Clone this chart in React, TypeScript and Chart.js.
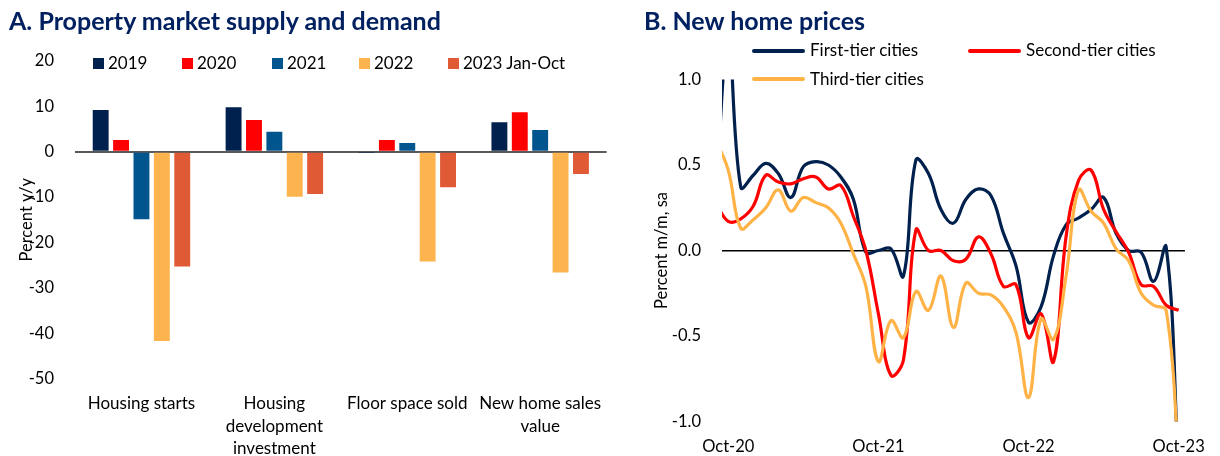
import React, { useEffect, useRef } from 'react';
import { Chart, registerables } from 'chart.js';

Chart.register(...registerables);

// ---------- Panel A data ----------
const categoryLines: string[][] = [
  ['Housing starts'],
  ['Housing', 'development', 'investment'],
  ['Floor space sold'],
  ['New home sales', 'value'],
];
const barSeriesNames = ['2019', '2020', '2021', '2022', '2023 Jan-Oct'];
const values2019 = [9.2, 9.8, -0.1, 6.5];
const values2020 = [2.6, 7.0, 2.6, 8.7];
const values2021 = [-14.9, 4.4, 1.9, 4.8];
const values2022 = [-41.7, -9.9, -24.2, -26.6];
const values2023 = [-25.3, -9.3, -7.8, -4.9];
const barColors = ['#00214D', '#FF0000', '#00558F', '#FDB44E', '#E05A36'];
const barYMin = -50;
const barYMax = 20;
const barYStep = 10;

// ---------- Panel B data ----------
const monthLabels = [
  'Sep-20', 'Oct-20', 'Nov-20', 'Dec-20',
  'Jan-21', 'Feb-21', 'Mar-21', 'Apr-21', 'May-21', 'Jun-21', 'Jul-21', 'Aug-21', 'Sep-21', 'Oct-21', 'Nov-21', 'Dec-21',
  'Jan-22', 'Feb-22', 'Mar-22', 'Apr-22', 'May-22', 'Jun-22', 'Jul-22', 'Aug-22', 'Sep-22', 'Oct-22', 'Nov-22', 'Dec-22',
  'Jan-23', 'Feb-23', 'Mar-23', 'Apr-23', 'May-23', 'Jun-23', 'Jul-23', 'Aug-23', 'Sep-23', 'Oct-23',
];
const firstTier = [
  0.3, 1.25, 0.37, 0.44,
  0.51, 0.45, 0.31, 0.49, 0.52, 0.5, 0.43, 0.3, -0.01, 0.0, 0.01, -0.15,
  0.53, 0.45, 0.24, 0.16, 0.3, 0.36, 0.32, 0.1, -0.09, -0.42, -0.33, -0.03,
  0.15, 0.19, 0.24, 0.31, 0.1, 0.0, -0.01, -0.18, 0.02, -1.3,
];
const secondTier = [
  0.28, 0.17, 0.185, 0.26,
  0.44, 0.4, 0.39, 0.42, 0.43, 0.36, 0.38, 0.2, 0.0, -0.37, -0.73, -0.64,
  0.12, 0.0, 0.0, -0.06, -0.05, 0.08, -0.02, -0.21, -0.2, -0.51, -0.37, -0.65,
  0.08, 0.41, 0.47, 0.24, 0.11, -0.01, -0.2, -0.21, -0.32, -0.35,
];
const thirdTier = [
  0.65, 0.47, 0.13, 0.18,
  0.25, 0.355, 0.23, 0.31, 0.28, 0.25, 0.16, -0.02, -0.21, -0.65, -0.41, -0.51,
  -0.24, -0.35, -0.15, -0.45, -0.19, -0.25, -0.26, -0.33, -0.48, -0.86, -0.4, -0.52,
  -0.15, 0.355, 0.23, 0.16, 0.01, -0.06, -0.25, -0.32, -0.35, -1.2,
];
const lineNames = ['First-tier cities', 'Second-tier cities', 'Third-tier cities'];
const lineColors = ['#00214D', '#FF0000', '#FFB347'];
const lineXTickLabels = ['Oct-20', 'Oct-21', 'Oct-22', 'Oct-23'];
const lineYMin = -1;
const lineYMax = 1;
const lineYStep = 0.5;

const FONT = 'Lato, "Open Sans", sans-serif';
const TEXT = '#000000';
const TITLE_COLOR = '#002060';

function BarPanel() {
  const ref = useRef<HTMLCanvasElement | null>(null);
  useEffect(() => {
    if (!ref.current) return;
    const seriesValues = [values2019, values2020, values2021, values2022, values2023];
    const chart = new Chart(ref.current, {
      type: 'bar',
      data: {
        labels: categoryLines as any,
        datasets: barSeriesNames.map((name, i) => ({
          label: name,
          data: seriesValues[i],
          backgroundColor: barColors[i],
          borderWidth: 0,
          categoryPercentage: 0.767,
          barPercentage: 0.78,
        })),
      },
      options: {
        responsive: false,
        animation: false,
        devicePixelRatio: 1,
        layout: { padding: { top: 61, right: 7, bottom: 0, left: 0 } },
        plugins: { legend: { display: false }, tooltip: { enabled: false } },
        scales: {
          x: {
            grid: { display: false, drawTicks: false },
            border: { display: false },
            ticks: {
              padding: 13,
              autoSkip: false,
              maxRotation: 0,
              color: TEXT,
              font: { family: FONT, size: 17, lineHeight: 1.35 },
            },
            afterFit: (s: any) => { s.height = 456 - 378.6; },
          },
          y: {
            min: barYMin,
            max: barYMax,
            ticks: {
              stepSize: barYStep,
              padding: 21,
              color: TEXT,
              font: { family: FONT, size: 16.5 },
            },
            grid: {
              drawTicks: false,
              lineWidth: 2,
              color: (ctx: any) => (ctx.tick && ctx.tick.value === 0 ? '#595959' : 'rgba(0,0,0,0)'),
            },
            border: { display: false },
            title: {
              display: true,
              text: 'Percent y/y',
              color: TEXT,
              font: { family: FONT, size: 16.5 },
              padding: { top: 17, bottom: 0 },
            },
            afterFit: (s: any) => { s.width = 75; },
          },
        },
      } as any,
    });
    return () => chart.destroy();
  }, []);
  return <canvas ref={ref} width={615} height={456} style={{ width: 615, height: 456, display: 'block' }} />;
}

function LinePanel() {
  const ref = useRef<HTMLCanvasElement | null>(null);
  useEffect(() => {
    if (!ref.current) return;
    const series = [firstTier, secondTier, thirdTier];
    const tickPositions = lineXTickLabels.map((l) => monthLabels.indexOf(l));
    const chart = new Chart(ref.current, {
      type: 'line',
      data: {
        datasets: lineNames.map((name, i) => ({
          label: name,
          data: series[i].map((v, k) => ({ x: k, y: v })),
          borderColor: lineColors[i],
          backgroundColor: lineColors[i],
          borderWidth: 3.2,
          pointRadius: 0,
          tension: 0.4,
          fill: false,
          clip: 0,
          order: 3 - i,
        })),
      },
      options: {
        responsive: false,
        animation: false,
        devicePixelRatio: 1,
        layout: { padding: { top: 79.5, right: 19, bottom: 0, left: 0 } },
        plugins: { legend: { display: false }, tooltip: { enabled: false } },
        scales: {
          x: {
            type: 'linear',
            min: 0.5,
            max: 37.5,
            grid: { display: false, drawTicks: false },
            border: { display: false },
            afterBuildTicks: (s: any) => { s.ticks = tickPositions.map((v) => ({ value: v })); },
            ticks: {
              padding: 15,
              autoSkip: false,
              maxRotation: 0,
              color: TEXT,
              font: { family: FONT, size: 16.5 },
              callback: (v: any) => monthLabels[Math.round(Number(v))],
            },
            afterFit: (s: any) => { s.height = 456 - 421.5; },
          },
          y: {
            min: lineYMin,
            max: lineYMax,
            ticks: {
              stepSize: lineYStep,
              padding: 21,
              color: TEXT,
              font: { family: FONT, size: 16.5 },
              callback: (v: any) => Number(v).toFixed(1),
            },
            grid: {
              drawTicks: false,
              lineWidth: 1.5,
              color: (ctx: any) => (ctx.tick && Math.abs(ctx.tick.value) < 1e-9 ? '#000000' : 'rgba(0,0,0,0)'),
            },
            border: { display: false },
            title: {
              display: true,
              text: 'Percent m/m, sa',
              color: TEXT,
              font: { family: FONT, size: 16.5 },
              padding: { top: 37, bottom: 0 },
            },
            afterFit: (s: any) => { s.width = 107; },
          },
        },
      } as any,
    });
    return () => chart.destroy();
  }, []);
  return <canvas ref={ref} width={605} height={456} style={{ width: 605, height: 456, display: 'block' }} />;
}

const titleStyle: React.CSSProperties = {
  position: 'absolute',
  top: 6,
  fontFamily: FONT,
  fontWeight: 700,
  fontSize: 25,
  lineHeight: '28px',
  color: TITLE_COLOR,
  whiteSpace: 'nowrap',
};

const legendText: React.CSSProperties = {
  position: 'absolute',
  fontFamily: FONT,
  fontSize: 17,
  lineHeight: '20px',
  color: TEXT,
  whiteSpace: 'nowrap',
};

const barLegendX = [93, 182, 272, 359, 448];
const lineLegendPos = [
  { x: 752, y: 50.7 },
  { x: 968, y: 50.7 },
  { x: 752, y: 79 },
];

export default function App() {
  return (
    <div style={{ position: 'absolute', left: 0, top: 0, width: 1220, height: 456, background: '#ffffff', overflow: 'hidden' }}>
      <div style={{ position: 'absolute', left: 0, top: 0 }}>
        <BarPanel />
      </div>
      <div style={{ position: 'absolute', left: 615, top: 0 }}>
        <LinePanel />
      </div>
      <div style={{ ...titleStyle, left: 9 }}>A. Property market supply and demand</div>
      <div style={{ ...titleStyle, left: 644 }}>B. New home prices</div>
      {barSeriesNames.map((name, i) => (
        <React.Fragment key={name}>
          <div style={{ position: 'absolute', left: barLegendX[i], top: 58, width: 10.5, height: 10.5, background: barColors[i] }} />
          <div style={{ ...legendText, left: barLegendX[i] + 15, top: 52.5 }}>{name}</div>
        </React.Fragment>
      ))}
      {lineNames.map((name, i) => (
        <React.Fragment key={name}>
          <div
            style={{
              position: 'absolute',
              left: lineLegendPos[i].x,
              top: lineLegendPos[i].y - 2,
              width: 53,
              height: 4,
              borderRadius: 2,
              background: lineColors[i],
            }}
          />
          <div style={{ ...legendText, left: lineLegendPos[i].x + 58, top: lineLegendPos[i].y - 10.5 }}>{name}</div>
        </React.Fragment>
      ))}
    </div>
  );
}
